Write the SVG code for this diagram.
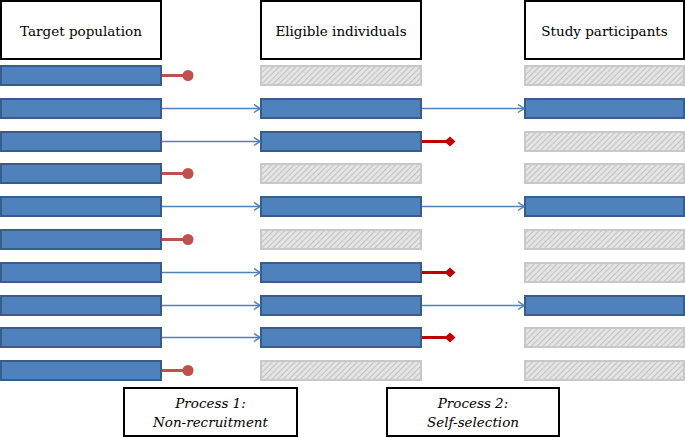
<svg xmlns="http://www.w3.org/2000/svg" width="685" height="438" viewBox="0 0 685 438">
<defs>
<pattern id="hatch" width="4" height="4" patternUnits="userSpaceOnUse" patternTransform="rotate(45)">
<rect width="4" height="4" fill="#e4e4e4"/>
<line x1="0" y1="0" x2="0" y2="4" stroke="#b8b8b8" stroke-width="1.6"/>
</pattern>
<marker id="arr" markerWidth="10" markerHeight="10" refX="8" refY="5" orient="auto" markerUnits="userSpaceOnUse">
<path d="M2,1 L8,5 L2,9" fill="none" stroke="#4f81bd" stroke-width="1.5"/>
</marker>
<marker id="dot" markerWidth="12" markerHeight="12" refX="6" refY="6" orient="auto" markerUnits="userSpaceOnUse">
<circle cx="6" cy="6" r="5.5" fill="#c0504d"/>
</marker>
<marker id="dia" markerWidth="14" markerHeight="14" refX="7" refY="7" orient="auto" markerUnits="userSpaceOnUse">
<path d="M1.5,7 L7,2 L12.5,7 L7,12 Z" fill="#c00000"/>
</marker>
</defs>
<style>
.hdr{fill:#fff;stroke:#000;stroke-width:2}
.bar{fill:#4f81bd;stroke:#385d8a;stroke-width:2}
.hat{fill:url(#hatch);stroke:#c8c8c8;stroke-width:2}
text{font-family:'DejaVu Serif','Liberation Serif',serif;font-size:13.5px;fill:#000;text-anchor:middle}
.it{font-style:italic}
.a{stroke:#4f81bd;stroke-width:1.5;fill:none;marker-end:url(#arr)}
.r{stroke:#c0504d;stroke-width:3;fill:none;marker-end:url(#dot)}
.d{stroke:#c00000;stroke-width:3;fill:none;marker-end:url(#dia)}
</style>
<g id="header-target"><rect class="hdr" x="1" y="1" width="160" height="58"/><text x="81" y="36">Target population</text></g>
<g id="header-eligible"><rect class="hdr" x="261" y="1" width="160" height="58"/><text x="341" y="36">Eligible individuals</text></g>
<g id="header-study"><rect class="hdr" x="525" y="1" width="159" height="58"/><text x="604.5" y="36">Study participants</text></g>

<g id="col-target">
<rect class="bar" x="1" y="66" width="160" height="19"/>
<rect class="bar" x="1" y="99" width="160" height="19"/>
<rect class="bar" x="1" y="132" width="160" height="19"/>
<rect class="bar" x="1" y="164" width="160" height="19"/>
<rect class="bar" x="1" y="197" width="160" height="19"/>
<rect class="bar" x="1" y="230" width="160" height="19"/>
<rect class="bar" x="1" y="263" width="160" height="19"/>
<rect class="bar" x="1" y="296" width="160" height="19"/>
<rect class="bar" x="1" y="328" width="160" height="19"/>
<rect class="bar" x="1" y="361" width="160" height="19"/>
</g>
<g id="col-eligible">
<rect class="hat" x="261" y="66" width="160" height="19"/>
<rect class="bar" x="261" y="99" width="160" height="19"/>
<rect class="bar" x="261" y="132" width="160" height="19"/>
<rect class="hat" x="261" y="164" width="160" height="19"/>
<rect class="bar" x="261" y="197" width="160" height="19"/>
<rect class="hat" x="261" y="230" width="160" height="19"/>
<rect class="bar" x="261" y="263" width="160" height="19"/>
<rect class="bar" x="261" y="296" width="160" height="19"/>
<rect class="bar" x="261" y="328" width="160" height="19"/>
<rect class="hat" x="261" y="361" width="160" height="19"/>
</g>
<g id="col-study">
<rect class="hat" x="525" y="66" width="159" height="19"/>
<rect class="bar" x="525" y="99" width="159" height="19"/>
<rect class="hat" x="525" y="132" width="159" height="19"/>
<rect class="hat" x="525" y="164" width="159" height="19"/>
<rect class="bar" x="525" y="197" width="159" height="19"/>
<rect class="hat" x="525" y="230" width="159" height="19"/>
<rect class="hat" x="525" y="263" width="159" height="19"/>
<rect class="bar" x="525" y="296" width="159" height="19"/>
<rect class="hat" x="525" y="328" width="159" height="19"/>
<rect class="hat" x="525" y="361" width="159" height="19"/>
</g>

<g id="connectors">
<line class="r" x1="162" y1="75.5" x2="188" y2="75.5"/>
<line class="a" x1="162" y1="108.5" x2="260" y2="108.5"/>
<line class="a" x1="422" y1="108.5" x2="524" y2="108.5"/>
<line class="a" x1="162" y1="141.5" x2="260" y2="141.5"/>
<line class="d" x1="422" y1="141.5" x2="450" y2="141.5"/>
<line class="r" x1="162" y1="173.5" x2="188" y2="173.5"/>
<line class="a" x1="162" y1="206.5" x2="260" y2="206.5"/>
<line class="a" x1="422" y1="206.5" x2="524" y2="206.5"/>
<line class="r" x1="162" y1="239.5" x2="188" y2="239.5"/>
<line class="a" x1="162" y1="272.5" x2="260" y2="272.5"/>
<line class="d" x1="422" y1="272.5" x2="450" y2="272.5"/>
<line class="a" x1="162" y1="305.5" x2="260" y2="305.5"/>
<line class="a" x1="422" y1="305.5" x2="524" y2="305.5"/>
<line class="a" x1="162" y1="337.5" x2="260" y2="337.5"/>
<line class="d" x1="422" y1="337.5" x2="450" y2="337.5"/>
<line class="r" x1="162" y1="370.5" x2="188" y2="370.5"/>
</g>

<g id="process1"><rect class="hdr" x="124" y="388" width="173" height="48"/><text class="it" x="210.5" y="408">Process 1:</text><text class="it" x="210.5" y="427">Non-recruitment</text></g>
<g id="process2"><rect class="hdr" x="387" y="388" width="172" height="48"/><text class="it" x="473" y="408">Process 2:</text><text class="it" x="473" y="427">Self-selection</text></g>
</svg>
